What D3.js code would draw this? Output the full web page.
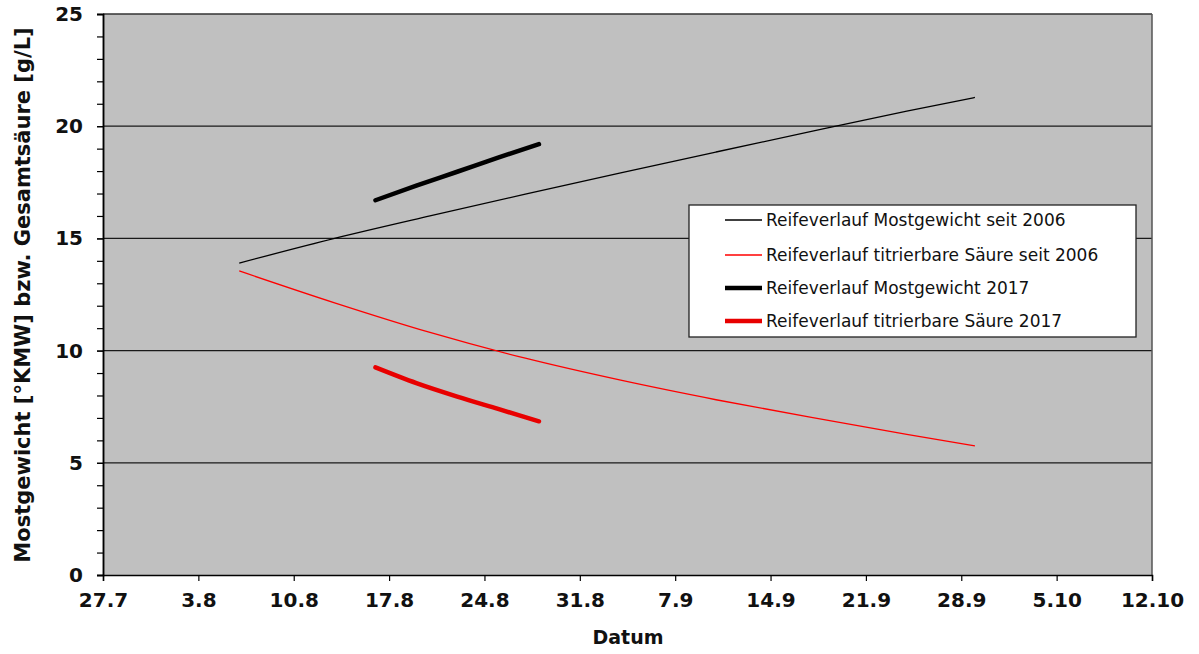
<!DOCTYPE html>
<html><head><meta charset="utf-8">
<script src="https://cdn.jsdelivr.net/npm/d3@7/dist/d3.min.js"></script>
<style>body{margin:0;background:#fff}svg{display:block}text{font-family:"DejaVu Sans",Verdana,sans-serif}</style>
</head><body>
<svg id="c" width="1199" height="654"></svg>
<script>
// Tick labels on the date axis
const xTickDates = ["2017-07-27","2017-08-03","2017-08-10","2017-08-17","2017-08-24","2017-08-31","2017-09-07","2017-09-14","2017-09-21","2017-09-28","2017-10-05","2017-10-12"];
const xTickLabels = ["27.7","3.8","10.8","17.8","24.8","31.8","7.9","14.9","21.9","28.9","5.10","12.10"];
const yTicks = [0,5,10,15,20,25];

// Long-term mean since 2006
const datesLong = ["2017-08-06","2017-08-13","2017-08-20","2017-08-27","2017-09-03","2017-09-10","2017-09-17","2017-09-24","2017-09-29"];
const mostLong  = [13.9,15.0,16.0,16.97,17.92,18.85,19.77,20.67,21.28];
const saeureLong = [13.55,12.13,10.81,9.66,8.68,7.81,7.02,6.27,5.75];

// 2017
const dates2017 = ["2017-08-16","2017-08-19","2017-08-22","2017-08-25","2017-08-28"];
const most2017  = [16.7,17.35,17.97,18.6,19.2];
const saeure2017 = [9.25,8.55,7.95,7.4,6.85];

const seriesNames = ["Reifeverlauf Mostgewicht seit 2006","Reifeverlauf titrierbare Säure seit 2006","Reifeverlauf Mostgewicht 2017","Reifeverlauf titrierbare Säure 2017"];

const parse = d3.utcParse("%Y-%m-%d");
const svg = d3.select("#c");
const L=103,R=1152,T=14,B=575;
const x = d3.scaleUtc().domain([parse("2017-07-27"),parse("2017-10-12")]).range([L,R]);
const y = d3.scaleLinear().domain([0,25]).range([B,T]);

svg.append("rect").attr("x",L).attr("y",T).attr("width",R-L).attr("height",B-T).attr("fill","#c0c0c0");

// gridlines
svg.append("g").selectAll("line").data(yTicks.filter(v=>v>0&&v<25)).join("line")
  .attr("x1",L).attr("x2",R).attr("y1",d=>y(d)).attr("y2",d=>y(d))
  .attr("stroke","#1a1a1a").attr("stroke-width",1.3);

// border top/right
svg.append("line").attr("x1",L).attr("x2",R).attr("y1",T).attr("y2",T).attr("stroke","#333").attr("stroke-width",1.5);
svg.append("line").attr("x1",R).attr("x2",R).attr("y1",T).attr("y2",B).attr("stroke","#555").attr("stroke-width",1.5);

// Y axis
const yAxis = d3.axisLeft(y).tickValues(yTicks).tickSize(6).tickPadding(14).tickFormat(d3.format("d"));
const gy = svg.append("g").attr("transform",`translate(${L},0)`).call(yAxis);
gy.selectAll(".tick text").attr("font-size","20px").attr("font-weight","bold").attr("fill","#111");
const yMinor = d3.axisLeft(y).tickValues(d3.range(0,26,1)).tickSize(6).tickFormat("");
svg.append("g").attr("transform",`translate(${L},0)`).call(yMinor);
svg.selectAll(".domain").attr("stroke","#000").attr("stroke-width",1.5);
svg.selectAll(".tick line").attr("stroke","#000").attr("stroke-width",1.2);

// X axis
const xAxis = d3.axisBottom(x).tickValues(xTickDates.map(parse)).tickSize(6).tickPadding(12)
  .tickFormat((d,i)=>xTickLabels[i]);
const gx = svg.append("g").attr("transform",`translate(0,${B})`).call(xAxis);
gx.selectAll(".tick text").attr("font-size","20px").attr("font-weight","bold").attr("fill","#111");
gx.select(".domain").attr("stroke","#000").attr("stroke-width",1.5);
gx.selectAll(".tick line").attr("stroke","#000").attr("stroke-width",1.2);

// lines
const line = d3.line().x(d=>x(d[0])).y(d=>y(d[1])).curve(d3.curveMonotoneX);
const mk = (ds,vs)=>ds.map((d,i)=>[parse(d),vs[i]]);
const styles = [
  {data:mk(datesLong,mostLong),c:"#000",w:1.3},
  {data:mk(datesLong,saeureLong),c:"#ff0000",w:1.3},
  {data:mk(dates2017,most2017),c:"#000",w:4.5},
  {data:mk(dates2017,saeure2017),c:"#e80000",w:4.5}
];
svg.append("g").selectAll("path").data(styles).join("path")
  .attr("d",d=>line(d.data)).attr("fill","none").attr("stroke",d=>d.c).attr("stroke-width",d=>d.w)
  .attr("stroke-linecap",d=>d.w>2?"round":"butt");

// legend
const lg = svg.append("g");
lg.append("rect").attr("x",689).attr("y",205).attr("width",447).attr("height",132)
  .attr("fill","#fff").attr("stroke","#222").attr("stroke-width",1.3);
const rowsY=[220,255,288,321];
styles.forEach((s,i)=>{
  lg.append("line").attr("x1",725).attr("x2",762).attr("y1",rowsY[i]).attr("y2",rowsY[i])
    .attr("stroke",s.c).attr("stroke-width",s.w>2?4.5:1.3);
  lg.append("text").attr("x",766).attr("y",rowsY[i]).attr("dy","0.35em").attr("font-size","17px")
    .attr("fill","#111").text(seriesNames[i]);
});

// axis titles
svg.append("text").attr("x",628).attr("y",644).attr("text-anchor","middle").attr("font-size","19px")
  .attr("font-weight","bold").attr("fill","#111").text("Datum");
svg.append("text").attr("transform","translate(30,295) rotate(-90)").attr("text-anchor","middle")
  .attr("font-size","21px").attr("font-weight","bold").attr("fill","#111")
  .text("Mostgewicht [°KMW] bzw. Gesamtsäure [g/L]");
</script>
</body></html>
